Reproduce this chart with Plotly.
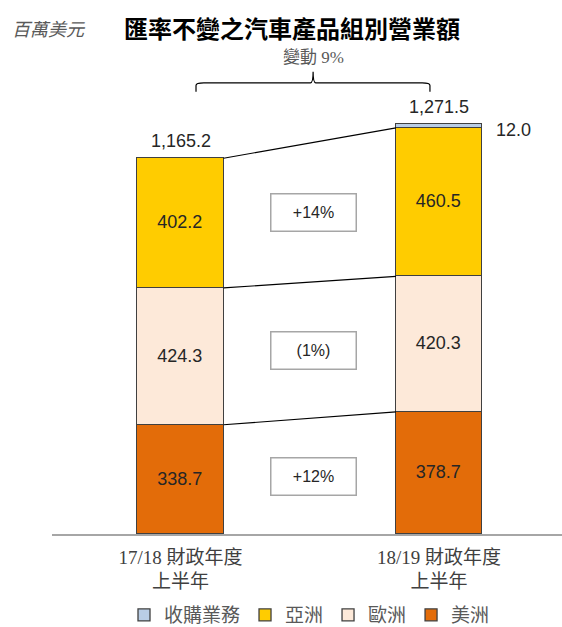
import plotly.graph_objects as go

# ---- data ----
categories = ["17/18 財政年度<br>上半年", "18/19 財政年度<br>上半年"]
series_names = ["美洲", "歐洲", "亞洲", "收購業務"]
americas = [338.7, 378.7]
europe = [424.3, 420.3]
asia = [402.2, 460.5]
acquisitions = [None, 12.0]
totals_text = ["1,165.2", "1,271.5"]
change_labels = ["+12%", "(1%)", "+14%"]  # americas, europe, asia
total_change_label = "變動 9%"
title_text = "匯率不變之汽車產品組別營業額"
unit_text = "百萬美元"

colors = {"美洲": "#E36C09", "歐洲": "#FDE9D9", "亞洲": "#FFCC00", "收購業務": "#B9CDE5"}

xpos = [0, 1]
bar_w = 0.333
serif = "Liberation Serif, 'Noto Sans CJK TC', serif"
sans = "Liberation Sans, Arial, 'Noto Sans CJK TC', sans-serif"

fig = go.Figure()
for name, vals in zip(series_names, [americas, europe, asia, acquisitions]):
    show_text = name != "收購業務"
    fig.add_trace(go.Bar(
        x=xpos, y=vals, name=name, width=bar_w,
        marker=dict(color=colors[name], line=dict(color="#404040", width=1.3)),
        texttemplate="%{y:.1f}" if show_text else None,
        textposition="inside" if show_text else "none",
        insidetextanchor="middle",
        textfont=dict(family=sans, size=18, color="#262626"),
        hoverinfo="skip",
    ))

# cumulative tops
cum = []
for i in range(2):
    a = americas[i]
    e = a + europe[i]
    s = e + asia[i]
    t = s + (acquisitions[i] or 0)
    cum.append((a, e, s, t))

shapes = []
# connector lines between segment tops
for k in range(3):
    shapes.append(dict(type="line", xref="x", yref="y",
                       x0=xpos[0] + bar_w / 2, y0=cum[0][k],
                       x1=xpos[1] - bar_w / 2, y1=cum[1][k],
                       line=dict(color="#000000", width=1.2)))

# bracket over the bars
bl, br, bc = 0.06, 0.965, 0.513
by, bend, btop = 1399, 1371, 1433
r = 8
path = (f"M{bl},{bend} L{bl},{by - r} Q{bl},{by} {bl + 0.03},{by} "
        f"L{bc - 0.01},{by} Q{bc},{by} {bc},{btop} Q{bc},{by} {bc + 0.01},{by} "
        f"L{br - 0.03},{by} Q{br},{by} {br},{by - r} L{br},{bend}")
shapes.append(dict(type="path", xref="x", yref="y", path=path,
                   line=dict(color="#000000", width=1.2)))

annotations = []
# totals above bars
for i in range(2):
    annotations.append(dict(x=xpos[i], y=cum[i][3], text=totals_text[i], showarrow=False,
                            xref="x", yref="y", yanchor="bottom", yshift=5,
                            font=dict(family=sans, size=18, color="#262626")))
# acquisitions label
annotations.append(dict(x=xpos[1] + bar_w / 2, y=cum[1][2] + acquisitions[1] / 2,
                        text=f"{acquisitions[1]:.1f}", showarrow=False, xref="x", yref="y",
                        xanchor="left", xshift=12, yshift=-4,
                        font=dict(family=sans, size=18, color="#262626")))
# change boxes
lows = [(0, 0), (cum[0][0], cum[1][0]), (cum[0][1], cum[1][1])]
highs = [(cum[0][0], cum[1][0]), (cum[0][1], cum[1][1]), (cum[0][2], cum[1][2])]
for k in range(3):
    mid = ((lows[k][0] + highs[k][0]) / 2 + (lows[k][1] + highs[k][1]) / 2) / 2
    annotations.append(dict(x=0.515, y=mid, text=change_labels[k], showarrow=False,
                            xref="x", yref="y", width=84, height=36, borderpad=0,
                            bordercolor="#A6A6A6", borderwidth=1.5, bgcolor="white",
                            font=dict(family=sans, size=16, color="#262626")))
# total change label
annotations.append(dict(x=bc, y=1479, text=total_change_label, showarrow=False,
                        xref="x", yref="y",
                        font=dict(family=serif, size=17, color="#595959")))
# unit label (plot area spans x 52..562 px, y 0..534 px)
annotations.append(dict(x=(10 - 52) / 510, y=(534 - 30) / 534, text=unit_text, showarrow=False,
                        xref="paper", yref="paper", xanchor="left", yanchor="middle",
                        font=dict(family=serif, size=18, color="#595959", style="italic")))

fig.update_layout(
    width=562, height=627,
    margin=dict(l=52, r=0, t=0, b=93, autoexpand=False),
    paper_bgcolor="white", plot_bgcolor="white",
    barmode="stack", bargap=0,
    showlegend=True,
    title=dict(text=title_text, x=292 / 562, xanchor="center", y=1 - 30 / 627, yanchor="middle",
               yref="container", xref="container",
               font=dict(family="'Noto Sans CJK TC', sans-serif", size=24, color="#000000", weight="bold")),
    xaxis=dict(range=[-(180.5 - 52) / 258.5, -(180.5 - 52) / 258.5 + 510 / 258.5],
               tickvals=xpos, ticktext=categories, showgrid=False, zeroline=False,
               showline=True, linecolor="#A6A6A6", linewidth=1.5, ticks="",
               ticklabelstandoff=5,
               tickfont=dict(family=serif, size=19, color="#404040"), fixedrange=True),
    yaxis=dict(range=[0, 534 / 0.3225], visible=False, showgrid=False, zeroline=False, fixedrange=True),
    legend=dict(orientation="h", traceorder="reversed", x=(124 - 52) / 510, xanchor="left",
                y=(534 - 615) / 534, yanchor="middle",
                font=dict(family=serif, size=19, color="#595959"), itemclick=False),
    shapes=shapes, annotations=annotations,
)

fig.write_html("out.html")
